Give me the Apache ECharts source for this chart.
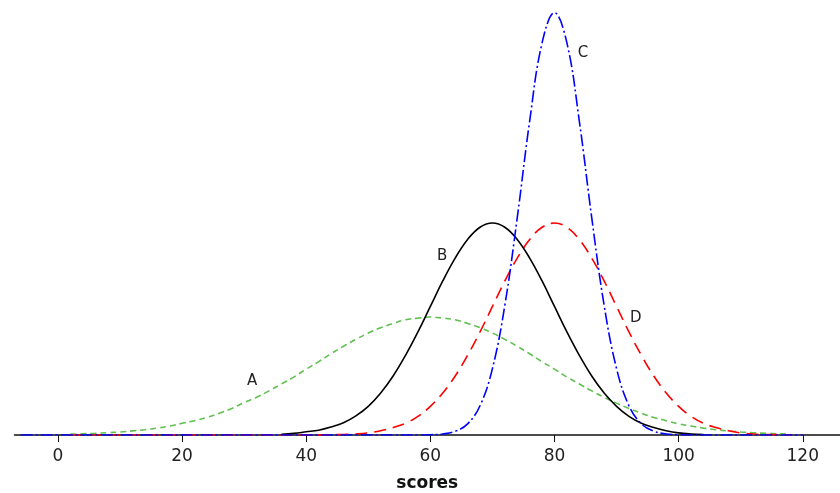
<!DOCTYPE html>
<html>
<head>
<meta charset="utf-8">
<script src="https://cdn.jsdelivr.net/npm/echarts@6/dist/echarts.min.js"></script>
<style>
  html, body { margin: 0; padding: 0; background: #fff; }
  #myChart { width: 840px; height: 493px; }
</style>
</head>
<body>
<div id="myChart"></div>
<script>
// x positions of the sampled points (scores)
var scores = [-6, -4, -2, 0, 2, 4, 6, 8, 10, 12, 14, 16, 18, 20, 22, 24, 26, 28, 30,
  32, 34, 36, 38, 40, 42, 44, 46, 48, 50, 52, 54, 56, 58, 60, 62, 64, 66, 68, 70,
  72, 74, 76, 78, 80, 82, 84, 86, 88, 90, 92, 94, 96, 98, 100, 102, 104, 106, 108,
  110, 112, 114, 116, 118, 120];

// curve heights (density x 1000), null = not drawn
var curveA = [null, null, null, null, 0.16, 0.23, 0.31, 0.43, 0.57, 0.77, 1.0, 1.3, 1.7, 2.2, 2.7, 3.3, 4.1, 5.0, 6.1,
  7.1, 8.3, 9.6, 10.9, 12.4, 13.8, 15.3, 16.7, 18.0, 19.2, 20.2, 21.0, 21.7, 22.0, 22.2, 22.0, 21.7, 21.0, 20.2, 19.2,
  18.0, 16.7, 15.3, 13.8, 12.4, 10.9, 9.6, 8.3, 7.1, 6.0, 5.0, 4.1, 3.3, 2.7, 2.1, 1.7, 1.3, 1.0, 0.77,
  0.57, 0.43, 0.31, 0.23, 0.16, null];
var curveB = [null, null, null, null, null, null, null, null, null, null, null, null, null, null, null, null, null, null, null,
  null, null, 0.15, 0.3, 0.6, 0.9, 1.5, 2.3, 3.6, 5.4, 7.9, 11.1, 15.0, 19.4, 24.2, 29.0, 33.3, 36.8, 39.1, 39.9,
  39.1, 36.8, 33.3, 29.0, 24.2, 19.4, 15.0, 11.1, 7.9, 5.4, 3.5, 2.2, 1.4, 0.8, 0.4, 0.2, 0.1, null, null,
  null, null, null, null, null, null];
var curveC = [0, 0, 0, 0, 0, 0, 0, 0, 0, 0, 0, 0, 0, 0, 0, 0, 0, 0, 0,
  0, 0, 0, 0, 0, 0, 0, 0, 0, 0, 0, 0, 0, 0, 0.05, 0.2, 0.7, 2.1, 5.5, 12.5,
  24.4, 40.9, 59.1, 73.8, 79.5, 73.8, 59.1, 40.9, 24.4, 12.5, 5.5, 2.1, 0.7, 0.2, 0.05, 0, 0, 0, 0,
  0, 0, 0, 0, 0, 0];
var curveD = [null, null, null, null, 0, 0, 0, 0, 0, 0, 0, 0, 0, 0, 0, 0, 0, 0, 0,
  0, 0, 0, 0, 0.01, 0.03, 0.06, 0.1, 0.2, 0.4, 0.8, 1.4, 2.2, 3.5, 5.4, 7.9, 11.1, 15.0, 19.4, 24.2,
  29.0, 33.3, 36.8, 39.1, 39.9, 39.1, 36.8, 33.3, 29.0, 24.2, 19.4, 15.0, 11.1, 7.9, 5.4, 3.5, 2.2, 1.4, 0.8,
  0.4, 0.2, 0.1, 0.06, 0.03, null];

var tickValues = [0, 20, 40, 60, 80, 100, 120];

// where the curve letters sit, in data units [score, height]
var curveLabels = [
  { name: 'A', at: [31.3, 10.2] },
  { name: 'B', at: [61.9, 33.7] },
  { name: 'C', at: [84.6, 71.9] },
  { name: 'D', at: [93.1, 22.0] }
];

function pairs(values) {
  return scores.map(function (x, i) { return [x, values[i]]; });
}

function letter(idx) {
  var l = curveLabels[idx];
  return {
    symbol: 'circle',
    symbolSize: 1,
    silent: true,
    itemStyle: { color: 'rgba(0,0,0,0)' },
    label: {
      show: true,
      position: 'inside',
      formatter: l.name,
      color: '#222',
      fontSize: 15,
      fontFamily: 'DejaVu Sans'
    },
    data: [{ coord: l.at, value: l.name }]
  };
}

var myChart = echarts.init(document.getElementById('myChart'));

var option = {
  backgroundColor: '#fff',
  animation: false,
  grid: { left: 14.5, right: 0, top: 10, bottom: 58, outerBoundsMode: 'none', containLabel: false },
  xAxis: {
    type: 'value',
    min: -7,
    max: 126,
    name: 'scores',
    nameLocation: 'middle',
    nameGap: 40,
    nameTextStyle: { color: '#111', fontSize: 17, fontWeight: 'bold', fontFamily: 'DejaVu Sans' },
    splitLine: { show: false },
    axisLine: { onZero: false, lineStyle: { color: '#111', width: 1.5 } },
    axisTick: { customValues: tickValues, length: 7, lineStyle: { color: '#111' } },
    axisLabel: {
      customValues: tickValues,
      margin: 13,
      color: '#222',
      fontSize: 17,
      fontFamily: 'DejaVu Sans'
    }
  },
  yAxis: {
    type: 'value',
    min: 0,
    max: 80,
    show: false
  },
  series: [{
    name: 'A',
    type: 'line',
    smooth: 0.4,
    showSymbol: false,
    lineStyle: { color: '#5fbf4f', width: 1.6, type: [6, 4] },
    markPoint: letter(0),
    z: 2,
    data: pairs(curveA)
  }, {
    name: 'D',
    type: 'line',
    smooth: 0.4,
    showSymbol: false,
    lineStyle: { color: '#ff0000', width: 1.6, type: [12, 7] },
    markPoint: letter(3),
    z: 3,
    data: pairs(curveD)
  }, {
    name: 'B',
    type: 'line',
    smooth: 0.4,
    showSymbol: false,
    lineStyle: { color: '#000', width: 1.6 },
    markPoint: letter(1),
    z: 4,
    data: pairs(curveB)
  }, {
    name: 'C',
    type: 'line',
    smooth: 0.4,
    showSymbol: false,
    lineStyle: { color: '#0000ff', width: 1.6, type: [12, 3, 2, 3] },
    markPoint: letter(2),
    z: 5,
    data: pairs(curveC)
  }]
};
myChart.setOption(option);
</script>
</body>
</html>
